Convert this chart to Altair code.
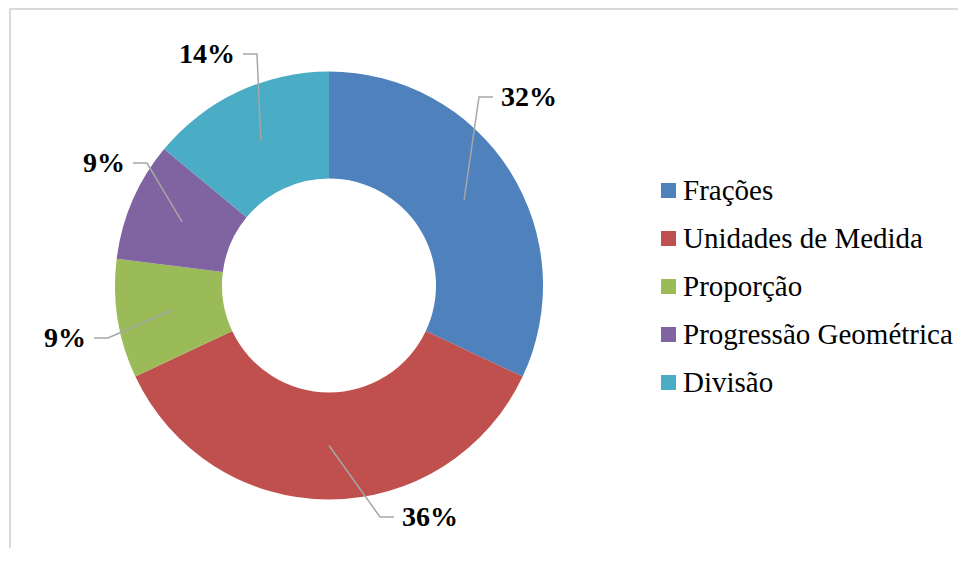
import math
import altair as alt
import pandas as pd

# ---- data ----
categories = ["Frações", "Unidades de Medida", "Proporção", "Progressão Geométrica", "Divisão"]
values = [32, 36, 9, 9, 14]
labels = ["32%", "36%", "9%", "9%", "14%"]
colors = ["#4F81BD", "#C0504D", "#9BBB59", "#8064A2", "#4BACC6"]

# ---- layout (pixels) ----
W, H = 950, 540
CX, CY = 321, 277.5
R_OUT, R_IN = 214, 107
R_ANCHOR = 160
ELBOWS = [(150, -188.5), (51, 231.5), (-221, 52.5), (-182, -122.5), (-72, -231.5)]
SIDES = [1, 1, -1, -1, -1]
SEG, GAP = 14, 8
FONT = "Liberation Serif"

slices = pd.DataFrame({"category": categories, "value": values, "idx": list(range(len(values)))})

total = sum(values)
line_rows, text_rows = [], []
cum = 0
for i, (cat, v, lab) in enumerate(zip(categories, values, labels)):
    mid = (cum + v / 2) / total * 2 * math.pi
    cum += v
    ax = CX + R_ANCHOR * math.sin(mid)
    ay = CY - R_ANCHOR * math.cos(mid)
    ex, ey = CX + ELBOWS[i][0], CY + ELBOWS[i][1]
    sx = ex + SIDES[i] * SEG
    line_rows += [
        {"category": cat, "k": 0, "px": ax, "py": ay},
        {"category": cat, "k": 1, "px": ex, "py": ey},
        {"category": cat, "k": 2, "px": sx, "py": ey},
    ]
    text_rows.append({"category": cat, "label": lab, "px": sx + SIDES[i] * GAP,
                      "py": ey + 1, "side": "right" if SIDES[i] > 0 else "left"})

lines = pd.DataFrame(line_rows)
texts = pd.DataFrame(text_rows)

donut = alt.Chart(slices).mark_arc(radius=R_OUT, radius2=R_IN, strokeWidth=0).encode(
    theta=alt.Theta("value:Q", stack=True),
    order=alt.Order("idx:Q"),
    x=alt.value(CX),
    y=alt.value(CY),
    color=alt.Color(
        "category:N",
        sort=categories,
        scale=alt.Scale(domain=categories, range=colors),
        legend=alt.Legend(
            title=None, orient="none", legendX=646, legendY=168,
            symbolType="square", symbolSize=225, symbolStrokeWidth=0,
            labelFont=FONT, labelFontSize=29, labelColor="black",
            rowPadding=18, labelOffset=0, padding=0, labelLimit=500,
        ),
    ),
)

leaders = alt.Chart(lines).mark_line(color="#A6A6A6", strokeWidth=1.5).encode(
    x=alt.X("px:Q", scale=None),
    y=alt.Y("py:Q", scale=None),
    detail="category:N",
    order="k:Q",
)

text_r = alt.Chart(texts).transform_filter(alt.datum.side == "right").mark_text(
    font=FONT, fontSize=28, fontWeight="bold", color="black", align="left", baseline="middle"
).encode(x=alt.X("px:Q", scale=None), y=alt.Y("py:Q", scale=None), text="label:N")

text_l = alt.Chart(texts).transform_filter(alt.datum.side == "left").mark_text(
    font=FONT, fontSize=28, fontWeight="bold", color="black", align="right", baseline="middle"
).encode(x=alt.X("px:Q", scale=None), y=alt.Y("py:Q", scale=None), text="label:N")

border_top = alt.Chart(slices).mark_rule(color="#D9D9D9", strokeWidth=1.5).encode(
    x=alt.value(2), x2=alt.value(W), y=alt.value(0.75)
)
border_left = alt.Chart(slices).mark_rule(color="#D9D9D9", strokeWidth=2).encode(
    x=alt.value(2), y=alt.value(0.75), y2=alt.value(H)
)

chart = alt.layer(border_top, border_left, donut, leaders, text_r, text_l).properties(
    width=W, height=H, padding=0, autosize=alt.AutoSizeParams(type="none")
).configure_view(stroke=None).configure_legend(labelFont=FONT)

chart.save("out.html", embed_options={"renderer": "svg", "actions": False})
